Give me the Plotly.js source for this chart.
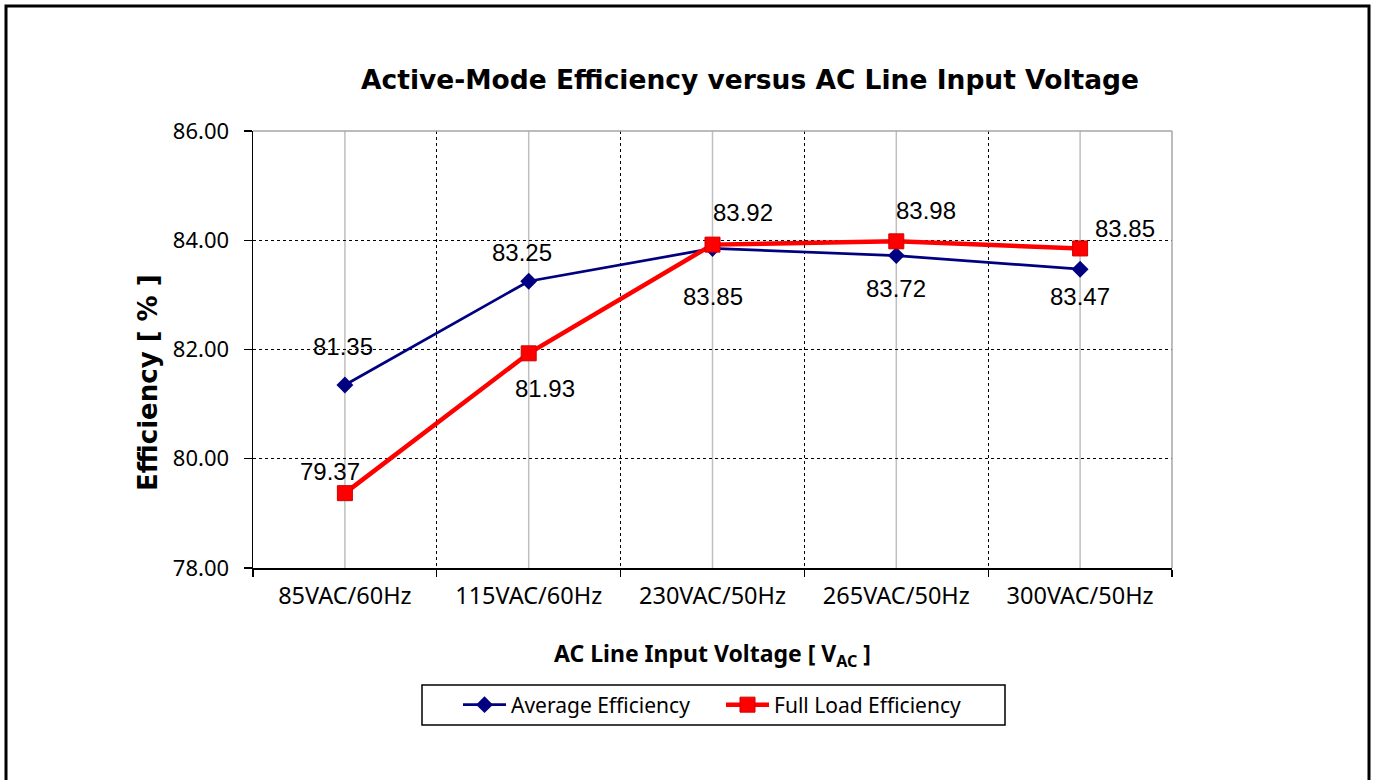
<!DOCTYPE html>
<html>
<head>
<meta charset="utf-8">
<script src="https://cdn.plot.ly/plotly-3.0.1.min.js"></script>
<style>
  html, body { margin: 0; padding: 0; background: #fff; }
  #chart { width: 1375px; height: 780px; }
</style>
</head>
<body>
<div id="chart"></div>
<script>
// ---- data ----
const categories = ["85VAC/60Hz", "115VAC/60Hz", "230VAC/50Hz", "265VAC/50Hz", "300VAC/50Hz"];
const averageEfficiency = [81.35, 83.25, 83.85, 83.72, 83.47];
const fullLoadEfficiency = [79.37, 81.93, 83.92, 83.98, 83.85];
const yTickValues = [78, 80, 82, 84, 86];

// ---- label placement (pixel offsets from each point) ----
const avgLabelShift = [[-2, 39], [-7, 29], [0, -48], [0, -33], [0, -27]];
const fullLabelShift = [[-15, 22], [16, -35], [30, 32], [30, 31], [45, 20]];

const M = { l: 253, r: 203, t: 131, b: 212 };
const W = 1375, H = 780;
const PW = W - M.l - M.r, PH = H - M.t - M.b;
const px = v => (v - M.l) / PW;
const py = v => (H - M.b - v) / PH;

const traces = [
  {
    x: categories, y: averageEfficiency, name: "Average Efficiency",
    type: "scatter", mode: "lines+markers",
    line: { color: "#000080", width: 2.7 },
    marker: { symbol: "diamond", size: 13, color: "#000080" }
  },
  {
    x: categories, y: fullLoadEfficiency, name: "Full Load Efficiency",
    type: "scatter", mode: "lines+markers",
    line: { color: "#ff0000", width: 4.5 },
    marker: { symbol: "square", size: 15, color: "#ff0000", line: { color: "#d00000", width: 1 } }
  }
];

const labelFont = { family: "Liberation Sans, Arial, sans-serif", size: 24, color: "#000" };
const annotations = [];
averageEfficiency.forEach((v, i) => annotations.push({
  x: categories[i], y: v, xref: "x", yref: "y", text: v.toFixed(2), showarrow: false,
  xshift: avgLabelShift[i][0], yshift: avgLabelShift[i][1], font: labelFont
}));
fullLoadEfficiency.forEach((v, i) => annotations.push({
  x: categories[i], y: v, xref: "x", yref: "y", text: v.toFixed(2), showarrow: false,
  xshift: fullLabelShift[i][0], yshift: fullLabelShift[i][1], font: labelFont
}));
// y-axis title (placed as in the reference, off-centre)
annotations.push({
  xref: "paper", yref: "paper", x: px(148), y: py(383), xanchor: "center", yanchor: "middle",
  text: "Efficiency [ % ]", textangle: -90, showarrow: false,
  font: { family: "DejaVu Sans, sans-serif", size: 26, color: "#000", weight: "bold" }
});

const shapes = categories.map(c => ({
  type: "line", xref: "x", yref: "paper", x0: c, x1: c, y0: 0, y1: 1,
  line: { color: "#bfbfbf", width: 1.5 }, layer: "below"
}));
// plot-area border (top / right gray)
shapes.push({ type: "line", xref: "paper", yref: "paper", x0: 0, x1: 1, y0: 1, y1: 1,
  line: { color: "#a6a6a6", width: 1.5 }, layer: "above" });
shapes.push({ type: "line", xref: "paper", yref: "paper", x0: 1, x1: 1, y0: 0, y1: 1,
  line: { color: "#a6a6a6", width: 1.5 }, layer: "above" });
// legend frame
shapes.push({ type: "rect", xref: "paper", yref: "paper",
  x0: px(422), x1: px(1005), y0: py(685), y1: py(725),
  line: { color: "#000", width: 1.5 }, fillcolor: "rgba(0,0,0,0)", layer: "above" });
// outer frame
shapes.push({ type: "rect", xref: "paper", yref: "paper",
  x0: px(6), x1: px(1369), y0: py(6), y1: py(800),
  line: { color: "#000", width: 3 }, fillcolor: "rgba(0,0,0,0)", layer: "above" });

const layout = {
  width: W, height: H,
  margin: M,
  paper_bgcolor: "#fff", plot_bgcolor: "#fff",
  showlegend: true,
  title: {
    text: "Active-Mode Efficiency versus AC Line Input Voltage",
    font: { family: "DejaVu Sans, sans-serif", size: 26.5, color: "#000", weight: "bold" },
    xref: "paper", x: px(750), xanchor: "center",
    yref: "container", y: 1 - 80 / H, yanchor: "middle"
  },
  xaxis: {
    type: "category",
    range: [-0.5, 4.5],
    tickson: "boundaries",
    ticks: "outside", ticklen: 7, tickcolor: "#000", tickwidth: 1.2,
    showline: true, linecolor: "#000", linewidth: 1.5,
    showgrid: true, gridcolor: "#000", griddash: "dot", gridwidth: 1,
    tickfont: { family: "Noto Sans, sans-serif", size: 23.5, color: "#000" },
    ticklabelstandoff: 6,
    title: {
      text: "AC Line Input Voltage [ V<sub>AC</sub> ]",
      font: { family: "Noto Sans, sans-serif", size: 23, color: "#000", weight: "bold" },
      standoff: 36
    },
    fixedrange: true
  },
  yaxis: {
    range: [78, 86],
    tickvals: yTickValues,
    tickformat: ".2f",
    ticks: "outside", ticklen: 8, tickcolor: "#000", tickwidth: 1.2,
    showline: true, linecolor: "#000", linewidth: 1.5,
    showgrid: true, gridcolor: "#000", griddash: "dot", gridwidth: 1,
    zeroline: false,
    tickfont: { family: "Noto Sans, sans-serif", size: 22, color: "#000" },
    ticklabelstandoff: 10,
    fixedrange: true
  },
  legend: {
    orientation: "h",
    x: px(458), xanchor: "left",
    y: py(705), yanchor: "middle",
    borderwidth: 0,
    bgcolor: "rgba(0,0,0,0)",
    font: { family: "Noto Sans, sans-serif", size: 21, color: "#000" },
    itemwidth: 43,
    entrywidth: 205,
    traceorder: "normal"
  },
  annotations: annotations,
  shapes: shapes
};

Plotly.newPlot("chart", traces, layout, { displayModeBar: false, staticPlot: true });
</script>
</body>
</html>
